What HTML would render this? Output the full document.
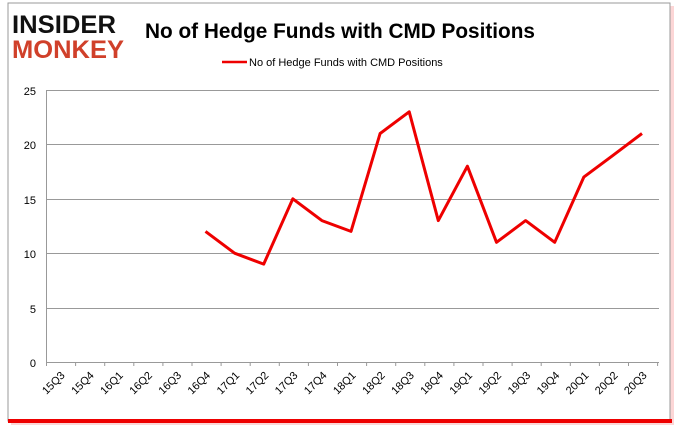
<!DOCTYPE html>
<html><head><style>
body{margin:0;width:680px;height:433px;background:#fff;overflow:hidden;font-family:"Liberation Sans",sans-serif}
</style></head><body>
<svg width="680" height="433" viewBox="0 0 680 433" xmlns="http://www.w3.org/2000/svg">
<rect x="11" y="6" width="663" height="419" fill="#e33" opacity="0.2"/>
<rect x="8" y="3" width="662" height="418" fill="#fff" stroke="#999" stroke-width="1"/>
<rect x="8" y="419" width="664" height="4" fill="#e00"/>
<text x="12" y="33" font-family="Liberation Sans" font-weight="900" font-size="25" fill="#111" textLength="104" lengthAdjust="spacingAndGlyphs">INSIDER</text>
<text x="12" y="58" font-family="Liberation Sans" font-weight="900" font-size="25" fill="#d0402a" textLength="112" lengthAdjust="spacingAndGlyphs">MONKEY</text>
<text x="340" y="38" text-anchor="middle" font-family="Liberation Sans" font-weight="bold" font-size="21" fill="#000" textLength="390" lengthAdjust="spacingAndGlyphs">No of Hedge Funds with CMD Positions</text>
<line x1="222" y1="62" x2="247" y2="62" stroke="#e00" stroke-width="2.5"/>
<text x="249" y="66" font-size="11" fill="#000">No of Hedge Funds with CMD Positions</text>
<g stroke="#999" stroke-width="1">
<line x1="46" y1="90.5" x2="659" y2="90.5"/>
<line x1="46" y1="144.5" x2="659" y2="144.5"/>
<line x1="46" y1="199.5" x2="659" y2="199.5"/>
<line x1="46" y1="253.5" x2="659" y2="253.5"/>
<line x1="46" y1="308.5" x2="659" y2="308.5"/>
<line x1="46" y1="362.5" x2="659" y2="362.5"/>
<line x1="46.5" y1="90" x2="46.5" y2="366"/>
</g>
<g font-size="11" fill="#000" text-anchor="end">
<text x="36" y="95">25</text><text x="36" y="149">20</text><text x="36" y="204">15</text>
<text x="36" y="258">10</text><text x="36" y="313">5</text><text x="36" y="367">0</text>
</g>
<g id="ticks" stroke="#999">
</g>
<g font-size="11" fill="#000" id="xl"></g>
<polyline fill="none" stroke="#e00" stroke-width="3" stroke-linejoin="round" points="205.5,231.4 234.6,253.2 263.7,264.1 292.8,198.8 321.9,220.6 351,231.4 380.1,133.5 409.2,111.8 438.3,220.6 467.4,166.2 496.5,242.3 525.6,220.6 554.7,242.3 583.8,177.1 612.9,155.4 642,133.5"/>
<script>
var L=["15Q3","15Q4","16Q1","16Q2","16Q3","16Q4","17Q1","17Q2","17Q3","17Q4","18Q1","18Q2","18Q3","18Q4","19Q1","19Q2","19Q3","19Q4","20Q1","20Q2","20Q3"];
var t=document.getElementById("ticks"),x=document.getElementById("xl"),ns="http://www.w3.org/2000/svg";
for(var i=0;i<=21;i++){var l=document.createElementNS(ns,"line");var px=46.5+29.1*i;l.setAttribute("x1",px);l.setAttribute("x2",px);l.setAttribute("y1",362);l.setAttribute("y2",366);t.appendChild(l);}
for(var i=0;i<21;i++){var c=46+14.5+29.1*i;var e=document.createElementNS(ns,"text");e.setAttribute("transform","translate("+(c+5)+",376) rotate(-45)");e.setAttribute("text-anchor","end");e.textContent=L[i];x.appendChild(e);}
</script>
</svg>
</body></html>
